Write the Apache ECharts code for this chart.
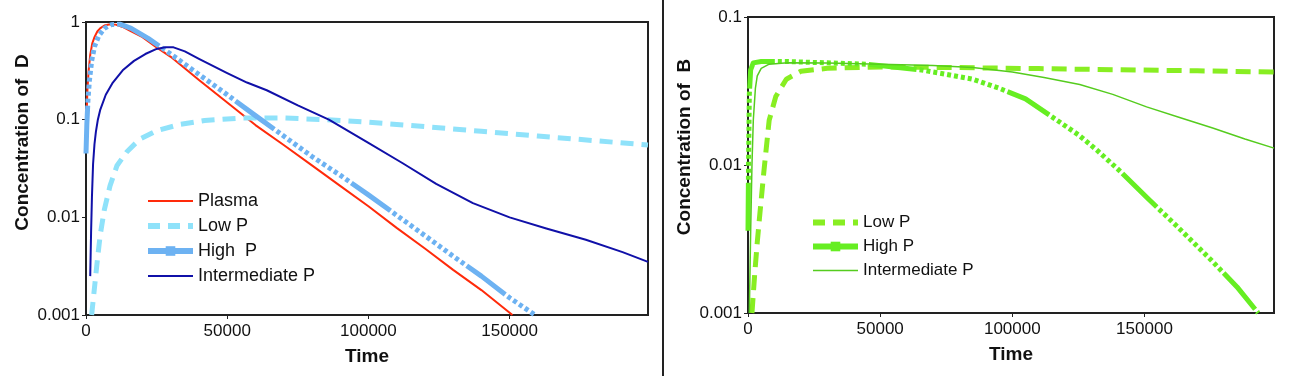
<!DOCTYPE html>
<html lang="en">
<head>
    <meta charset="UTF-8">
    <title>Concentration of D and B</title>
    <script src="https://cdn.jsdelivr.net/npm/echarts@6/dist/echarts.min.js"></script>
    <style>
        body { margin: 0; background: #fff; }
    </style>
</head>
<body>
    <div id="main" style="width: 1292px; height: 376px;"></div>
    <script>
        // [time, concentration]
        const plasmaD = [[0, 0.06], [200, 0.11], [500, 0.2], [900, 0.31], [1500, 0.46], [2200, 0.6], [3000, 0.7],
            [4000, 0.8], [5000, 0.86], [6500, 0.92], [8500, 0.95], [10500, 0.94], [13000, 0.89], [16000, 0.8],
            [20000, 0.7], [25000, 0.55], [30000, 0.44], [40000, 0.255], [50000, 0.15], [60000, 0.088], [70000, 0.055],
            [80000, 0.034], [90000, 0.021], [100000, 0.013], [110000, 0.0078], [120000, 0.0048], [130000, 0.0029],
            [140000, 0.0018], [151000, 0.001]];
        const lowD = [[2000, 0.001], [3000, 0.0019], [4000, 0.0036], [5000, 0.0065], [6500, 0.012], [8500, 0.021],
            [11000, 0.034], [14500, 0.047], [19000, 0.063], [25000, 0.077], [33000, 0.089], [42000, 0.098],
            [55000, 0.104], [70000, 0.104], [85000, 0.1], [100000, 0.094], [120000, 0.085], [140000, 0.076],
            [160000, 0.068], [180000, 0.061], [199000, 0.055]];
        const highD = [[0, 0.045], [300, 0.09], [700, 0.16], [1200, 0.25], [2000, 0.4], [3000, 0.56], [4500, 0.72],
            [6500, 0.86], [9000, 0.94], [12000, 0.95], [16000, 0.86], [22000, 0.68], [30000, 0.47], [40000, 0.29],
            [50000, 0.18], [60000, 0.11], [70000, 0.068], [80000, 0.042], [90000, 0.027], [100000, 0.017],
            [110000, 0.0105], [120000, 0.0065], [130000, 0.004], [140000, 0.0025], [150000, 0.0015], [159000, 0.001]];
        const interD = [[1500, 0.0025], [1800, 0.007], [2100, 0.016], [2500, 0.035], [3000, 0.056], [3500, 0.075],
            [4200, 0.1], [5000, 0.125], [7000, 0.18], [9500, 0.24], [13000, 0.32], [17000, 0.4], [21000, 0.47],
            [25000, 0.53], [28000, 0.55], [31000, 0.55], [35000, 0.5], [40000, 0.42], [50000, 0.3], [57000, 0.24],
            [64000, 0.2], [75000, 0.14], [86000, 0.1], [100000, 0.058], [112000, 0.036], [124000, 0.022],
            [137000, 0.014], [150000, 0.01], [163000, 0.0077], [177000, 0.0059], [190000, 0.0044], [199000, 0.0035]];

        const lowB = [[1500, 0.001], [2500, 0.0018], [3500, 0.003], [4500, 0.0047], [6000, 0.009], [8000, 0.02],
            [10500, 0.029], [14500, 0.038], [20000, 0.043], [30000, 0.045], [50000, 0.046], [80000, 0.0455],
            [110000, 0.0448], [140000, 0.044], [170000, 0.0433], [199000, 0.0425]];
        const highB = [[0, 0.0036], [200, 0.01], [500, 0.03], [1000, 0.044], [2000, 0.049], [5000, 0.05],
            [15000, 0.05], [30000, 0.049], [45000, 0.048], [55000, 0.046], [65000, 0.044], [75000, 0.041],
            [85000, 0.038], [95000, 0.033], [105000, 0.028], [117000, 0.02], [125000, 0.016], [132000, 0.0126],
            [141000, 0.009], [151000, 0.006], [162000, 0.0039], [175000, 0.0023], [185000, 0.0015], [193000, 0.001]];
        const interB = [[500, 0.001], [1000, 0.0035], [1500, 0.01], [2000, 0.02], [2800, 0.033], [3500, 0.04],
            [5000, 0.045], [8000, 0.048], [15000, 0.049], [30000, 0.0488], [50000, 0.048], [70000, 0.047],
            [85000, 0.0455], [100000, 0.0425], [112000, 0.039], [125500, 0.035], [138000, 0.03], [150800, 0.0247],
            [163000, 0.021], [175800, 0.0178], [188000, 0.015], [199000, 0.013]];

        const xTicks = [0, 50000, 100000, 150000];
        const yTicksD = [0.001, 0.01, 0.1, 1];
        const yTicksB = [0.001, 0.01, 0.1];

        const font = 'Liberation Sans, Arial, sans-serif';
        // long dash followed by a run of small dots
        const dashDot = [48, 3, 4, 3, 4, 3, 4, 3, 4, 3, 4, 3, 4, 3, 4, 3, 4, 3, 4, 3, 4, 3, 4, 3, 4, 3, 4, 3];

        function xAxis(gridIndex) {
            return {
                type: 'value', gridIndex: gridIndex,
                min: xTicks[0], max: 199000, interval: 50000,
                name: 'Time', nameLocation: 'middle', nameGap: 32,
                nameTextStyle: { fontFamily: font, fontSize: 19, fontWeight: 'bold', color: '#111' },
                axisLine: { lineStyle: { color: '#222', width: 2 } },
                axisTick: { show: true, length: 4, lineStyle: { color: '#222' } },
                axisLabel: {
                    fontFamily: font, fontSize: 17, color: '#111', margin: 8, showMaxLabel: false,
                    formatter: function (v) { return String(v); }
                },
                splitLine: { show: false }
            };
        }
        function yAxis(gridIndex, ticks, name, pad) {
            return {
                type: 'log', logBase: 10, gridIndex: gridIndex,
                min: ticks[0], max: ticks[ticks.length - 1],
                name: name, nameLocation: 'middle', nameGap: 54,
                nameTextStyle: { fontFamily: font, fontSize: 19, fontWeight: 'bold', color: '#111', padding: [0, 0, 0, pad] },
                axisLine: { lineStyle: { color: '#222', width: 2 } },
                axisTick: { show: true, length: 4, lineStyle: { color: '#222' } },
                minorTick: { show: false },
                axisLabel: {
                    fontFamily: font, fontSize: 17, color: '#111', margin: 6,
                    formatter: function (v) { return String(+v.toPrecision(3)); }
                },
                splitLine: { show: false }
            };
        }
        function line(name, data, xi, color, width, type, extra) {
            return Object.assign({
                name: name, type: 'line', xAxisIndex: xi, yAxisIndex: xi, data: data,
                symbol: 'none', smooth: false, animation: false,
                lineStyle: { color: color, width: width, type: type, cap: 'butt', join: 'round' },
                itemStyle: { color: color }
            }, extra || {});
        }
        const noMark = { opacity: 0 };

        const myChart = echarts.init(document.getElementById('main'), null, { renderer: 'canvas' });
        const option = {
            backgroundColor: '#fff',
            grid: [
                { left: 86, top: 22, width: 562, height: 293, show: true, borderColor: '#222', borderWidth: 2 },
                { left: 748, top: 17, width: 526, height: 296, show: true, borderColor: '#222', borderWidth: 2 }
            ],
            xAxis: [xAxis(0), xAxis(1)],
            yAxis: [yAxis(0, yTicksD, 'Concentration of  D', 52), yAxis(1, yTicksB, 'Concentration of  B', 36)],
            legend: [
                {
                    left: 140, top: 187, orient: 'vertical', itemWidth: 45, itemHeight: 12, itemGap: 7,
                    textStyle: { fontFamily: font, fontSize: 18, color: '#111' }, selectedMode: false,
                    data: [
                        { name: 'Plasma', itemStyle: noMark, lineStyle: { width: 2 } },
                        { name: 'Low P', itemStyle: noMark, lineStyle: { width: 6, type: [12, 8] } },
                        { name: 'High  P', lineStyle: { width: 6, type: 'solid' } },
                        { name: 'Intermediate P', itemStyle: noMark, lineStyle: { width: 2 } }
                    ]
                },
                {
                    left: 805, top: 209, orient: 'vertical', itemWidth: 45, itemHeight: 12, itemGap: 7,
                    textStyle: { fontFamily: font, fontSize: 17, color: '#111' }, selectedMode: false,
                    data: [
                        { name: 'Low P ', itemStyle: noMark, lineStyle: { width: 6, type: [12, 8] } },
                        { name: 'High P', lineStyle: { width: 6, type: 'solid' } },
                        { name: 'Intermediate P ', itemStyle: noMark, lineStyle: { width: 1.5 } }
                    ]
                }
            ],
            series: [
                line('Plasma', plasmaD, 0, '#ff2a0a', 2, 'solid'),
                line('Low P', lowD, 0, '#8fe2fa', 5, [13, 8]),
                line('High  P', highD, 0, '#6db2f2', 5, dashDot, { symbol: 'rect', symbolSize: 10, showSymbol: false }),
                line('Intermediate P', interD, 0, '#1010a8', 2, 'solid'),
                line('Low P ', lowB, 1, '#88ee22', 5, [15, 8]),
                line('High P', highB, 1, '#66ee22', 5, dashDot, { symbol: 'rect', symbolSize: 10, showSymbol: false }),
                line('Intermediate P ', interB, 1, '#55cc1e', 1.5, 'solid')
            ],
            graphic: [
                { type: 'line', shape: { x1: 663, y1: 0, x2: 663, y2: 376 }, style: { stroke: '#222', lineWidth: 2 } }
            ]
        };
        myChart.setOption(option);
    </script>
</body>
</html>
